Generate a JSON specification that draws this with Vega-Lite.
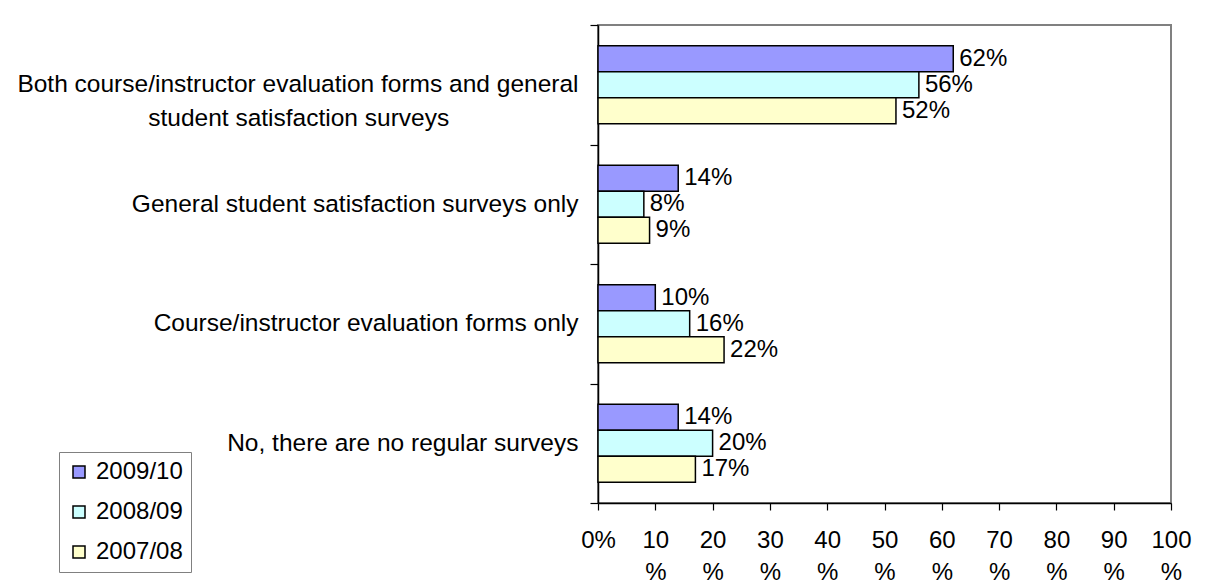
{
  "$schema": "https://vega.github.io/schema/vega-lite/v6.json",
  "width": 573,
  "height": 478,
  "autosize": {"type": "none"},
  "padding": {"left": 598, "top": 25, "right": 41, "bottom": 85},
  "background": "white",
  "config": {
    "font": "Liberation Sans",
    "view": {"stroke": "#808080", "strokeWidth": 2},
    "axis": {"grid": false, "domainColor": "black", "domainWidth": 1.5, "tickColor": "black", "tickWidth": 1.2, "labelColor": "black", "labelFont": "Liberation Sans"}
  },
  "data": {
    "values": [
      {"category": "Both course/instructor evaluation forms and general student satisfaction surveys", "year": "2009/10", "value": 0.62},
      {"category": "Both course/instructor evaluation forms and general student satisfaction surveys", "year": "2008/09", "value": 0.56},
      {"category": "Both course/instructor evaluation forms and general student satisfaction surveys", "year": "2007/08", "value": 0.52},
      {"category": "General student satisfaction surveys only", "year": "2009/10", "value": 0.14},
      {"category": "General student satisfaction surveys only", "year": "2008/09", "value": 0.08},
      {"category": "General student satisfaction surveys only", "year": "2007/08", "value": 0.09},
      {"category": "Course/instructor evaluation forms only", "year": "2009/10", "value": 0.10},
      {"category": "Course/instructor evaluation forms only", "year": "2008/09", "value": 0.16},
      {"category": "Course/instructor evaluation forms only", "year": "2007/08", "value": 0.22},
      {"category": "No, there are no regular surveys", "year": "2009/10", "value": 0.14},
      {"category": "No, there are no regular surveys", "year": "2008/09", "value": 0.20},
      {"category": "No, there are no regular surveys", "year": "2007/08", "value": 0.17}
    ]
  },
  "encoding": {
    "y": {
      "field": "category",
      "type": "nominal",
      "sort": ["Both course/instructor evaluation forms and general student satisfaction surveys", "General student satisfaction surveys only", "Course/instructor evaluation forms only", "No, there are no regular surveys"],
      "scale": {"paddingInner": 0, "paddingOuter": 0},
      "axis": {
        "title": null,
        "tickBand": "extent",
        "tickSize": 8,
        "labelFontSize": 24.5,
        "labelPadding": 12,
        "labelLimit": 0,
        "labelLineHeight": 34,
        "labelExpr": "datum.value == 'Both course/instructor evaluation forms and general student satisfaction surveys' ? ['Both course/instructor evaluation forms and general', 'student satisfaction surveys\u00a0\u00a0\u00a0\u00a0\u00a0\u00a0\u00a0\u00a0\u00a0\u00a0\u00a0\u00a0\u00a0\u00a0\u00a0\u00a0\u00a0\u00a0\u00a0\u200b'] : datum.value"
      }
    },
    "x": {
      "field": "value",
      "type": "quantitative",
      "scale": {"domain": [0, 1], "nice": false},
      "axis": {
        "title": null,
        "values": [0, 0.1, 0.2, 0.3, 0.4, 0.5, 0.6, 0.7, 0.8, 0.9, 1],
        "tickSize": 7,
        "labelFontSize": 24,
        "labelPadding": 18,
        "labelLineHeight": 32,
        "labelFlush": false,
        "labelOverlap": false,
        "labelExpr": "datum.value == 0 ? '0%' : [format(datum.value * 100, 'd'), '%']"
      }
    },
    "yOffset": {
      "field": "year",
      "type": "nominal",
      "sort": ["2009/10", "2008/09", "2007/08"],
      "scale": {"paddingInner": 0, "paddingOuter": 0.8}
    }
  },
  "layer": [
    {
      "mark": {"type": "bar", "stroke": "black", "strokeWidth": 1.5},
      "encoding": {
        "color": {
          "field": "year",
          "type": "nominal",
          "sort": ["2009/10", "2008/09", "2007/08"],
          "scale": {"domain": ["2009/10", "2008/09", "2007/08"], "range": ["#9999FF", "#CCFFFF", "#FFFFCC"]},
          "legend": {
            "title": null,
            "orient": "none",
            "legendX": -539,
            "legendY": 427,
            "strokeColor": "#808080",
            "padding": 8,
            "symbolType": "square",
            "symbolSize": 144,
            "symbolStrokeColor": "black",
            "symbolStrokeWidth": 1.5,
            "symbolOpacity": 1,
            "labelFontSize": 24,
            "labelColor": "black",
            "labelFont": "Liberation Sans",
            "rowPadding": 16,
            "labelOffset": 5
          }
        }
      }
    },
    {
      "mark": {"type": "text", "align": "left", "baseline": "middle", "dx": 6, "fontSize": 24, "color": "black"},
      "encoding": {
        "text": {"field": "value", "type": "quantitative", "format": ".0%"}
      }
    }
  ]
}
